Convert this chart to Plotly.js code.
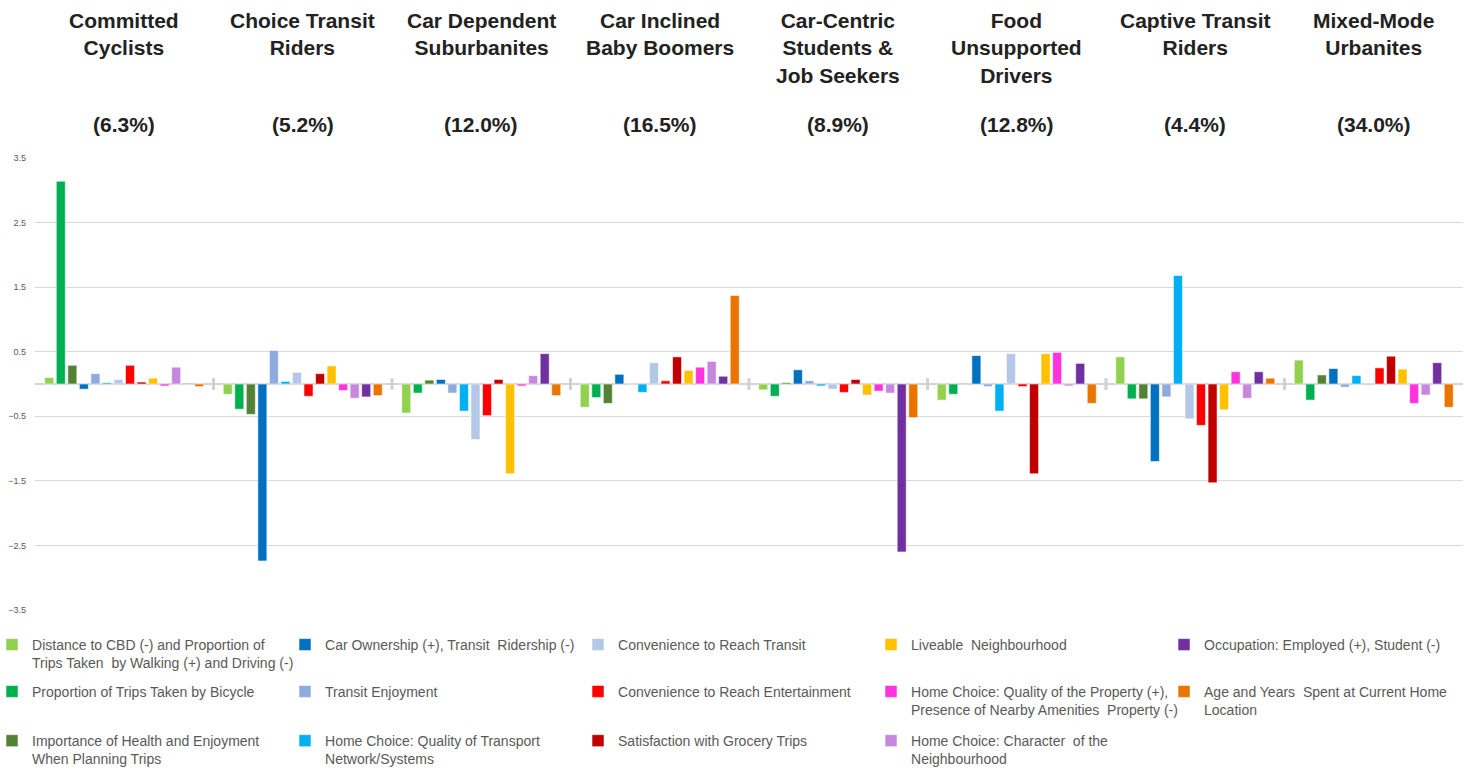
<!DOCTYPE html>
<html>
<head>
<meta charset="utf-8">
<script src="https://cdn.plot.ly/plotly-3.0.1.min.js"></script>
<style>html,body{margin:0;padding:0;background:#fff;}#chart{width:1477px;height:770px;}</style>
</head>
<body>
<div id="chart"></div>
<script>
// Clusters (categories)
const clusterNames = [
  "Committed<br>Cyclists",
  "Choice Transit<br>Riders",
  "Car Dependent<br>Suburbanites",
  "Car Inclined<br>Baby Boomers",
  "Car-Centric<br>Students &<br>Job Seekers",
  "Food<br>Unsupported<br>Drivers",
  "Captive Transit<br>Riders",
  "Mixed-Mode<br>Urbanites"
];
const clusterShares = ["(6.3%)","(5.2%)","(12.0%)","(16.5%)","(8.9%)","(12.8%)","(4.4%)","(34.0%)"];

// Factor names (series), in bar order within each cluster
const factorNames = [
  "Distance to CBD (-) and Proportion of<br>Trips Taken  by Walking (+) and Driving (-)",
  "Proportion of Trips Taken by Bicycle",
  "Importance of Health and Enjoyment<br>When Planning Trips",
  "Car Ownership (+), Transit  Ridership (-)",
  "Transit Enjoyment",
  "Home Choice: Quality of Transport<br>Network/Systems",
  "Convenience to Reach Transit",
  "Convenience to Reach Entertainment",
  "Satisfaction with Grocery Trips",
  "Liveable  Neighbourhood",
  "Home Choice: Quality of the Property (+),<br>Presence of Nearby Amenities  Property (-)",
  "Home Choice: Character  of the<br>Neighbourhood",
  "Occupation: Employed (+), Student (-)",
  "Age and Years  Spent at Current Home<br>Location"
];
const factorColors = ["#92D050","#00B050","#548235","#0070C0","#8FAADC","#00B0F0","#B4C7E7",
                      "#FF0000","#C00000","#FFC000","#FF33DD","#C687DE","#7030A0","#E97400"];

// Values per factor across the 8 clusters
const distanceCBD      = [ 0.10, -0.16, -0.45, -0.36, -0.09, -0.25,  0.42,  0.37];
const bicycleTrips     = [ 3.14, -0.39, -0.14, -0.21, -0.19, -0.16, -0.23, -0.25];
const healthEnjoyment  = [ 0.29, -0.47,  0.06, -0.30,  0.02,  0.01, -0.23,  0.14];
const carOwnership     = [-0.08, -2.74,  0.07,  0.15,  0.22,  0.44, -1.20,  0.24];
const transitEnjoyment = [ 0.16,  0.52, -0.14,  0.01,  0.05, -0.04, -0.20, -0.05];
const homeTransport    = [ 0.02,  0.04, -0.42, -0.13, -0.03, -0.42,  1.68,  0.13];
const convTransit      = [ 0.07,  0.18, -0.86,  0.33, -0.08,  0.47, -0.54, -0.02];
const convEntertain    = [ 0.29, -0.19, -0.49,  0.05, -0.13, -0.04, -0.64,  0.25];
const grocerySatisf    = [ 0.03,  0.16,  0.07,  0.42,  0.07, -1.39, -1.53,  0.43];
const liveableNeigh    = [ 0.09,  0.28, -1.39,  0.21, -0.17,  0.47, -0.40,  0.23];
const homeProperty     = [-0.03, -0.10, -0.03,  0.26, -0.11,  0.49,  0.19, -0.30];
const homeCharacter    = [ 0.26, -0.22,  0.13,  0.35, -0.14, -0.03, -0.22, -0.17];
const occupation       = [ 0.01, -0.20,  0.47,  0.12, -2.60,  0.32,  0.19,  0.33];
const ageYears         = [-0.04, -0.18, -0.18,  1.37, -0.52, -0.30,  0.09, -0.36];

const seriesValues = [distanceCBD, bicycleTrips, healthEnjoyment, carOwnership, transitEnjoyment,
  homeTransport, convTransit, convEntertain, grocerySatisf, liveableNeigh, homeProperty,
  homeCharacter, occupation, ageYears];

// Legend reads column-major with 3 rows: each row is its own legend
const legendIds = ["legend", "legend2", "legend3"];

const xIdx = clusterNames.map((_, i) => i);

const traces = seriesValues.map((vals, k) => ({
  type: "bar",
  x: xIdx,
  y: vals,
  name: factorNames[k],
  legend: legendIds[k % 3],
  marker: { color: factorColors[k], line: { color: "rgba(255,255,255,0.55)", width: 1 } },
  hoverinfo: "name+y"
}));

const annotations = [];
clusterNames.forEach((nm, i) => {
  annotations.push({
    xref: "x", yref: "paper", x: i, y: 1, yanchor: "top", yshift: 151,
    text: nm, showarrow: false, align: "center",
    font: { family: "Liberation Sans, Arial, sans-serif", size: 21, color: "#222222", weight: "bold" }
  });
  annotations.push({
    xref: "x", yref: "paper", x: i, y: 1, yanchor: "middle", yshift: 34,
    text: clusterShares[i], showarrow: false, align: "center",
    font: { family: "Liberation Sans, Arial, sans-serif", size: 21, color: "#222222", weight: "bold" }
  });
});

const shapes = xIdx.slice(0, -1).map(i => ({
  type: "line", xref: "x", yref: "y", x0: i + 0.5, x1: i + 0.5, y0: -0.09, y1: 0.09,
  line: { color: "#D0D0D0", width: 3 }, layer: "above"
}));

const legendBase = (yPos) => ({
  orientation: "h", x: -0.0301, xanchor: "left", y: yPos, yanchor: "top",
  entrywidth: 248, entrywidthmode: "pixels",
  font: { family: "Liberation Sans Narrow, Arial Narrow, sans-serif", size: 14, color: "#595959" },
  itemwidth: 30, traceorder: "normal", valign: "top", bgcolor: "rgba(0,0,0,0)"
});

const layout = {
  width: 1477, height: 770,
  margin: { l: 35, r: 14, t: 158, b: 160, autoexpand: false },
  paper_bgcolor: "#ffffff", plot_bgcolor: "#ffffff",
  barmode: "group", bargap: 0.095, bargroupgap: 0.22,
  showlegend: true,
  xaxis: { type: "linear", range: [-0.5, clusterNames.length - 0.5], showticklabels: false,
           showgrid: false, zeroline: false, ticks: "", showline: false, fixedrange: true },
  yaxis: { range: [-3.5, 3.5], tick0: 0.5, dtick: 1, tickmode: "linear",
           showgrid: true, gridcolor: "#D9D9D9", gridwidth: 1,
           zeroline: true, zerolinecolor: "#D4D4D4", zerolinewidth: 2,
           ticks: "", ticklabelstandoff: 8,
           tickfont: { family: "Liberation Sans, Arial, sans-serif", size: 9, color: "#595959" } },
  legend: legendBase(-0.042),
  legend2: legendBase(-0.1456),
  legend3: legendBase(-0.2546),
  annotations: annotations,
  shapes: shapes
};

Plotly.newPlot("chart", traces, layout, { displayModeBar: false });
</script>
</body>
</html>
